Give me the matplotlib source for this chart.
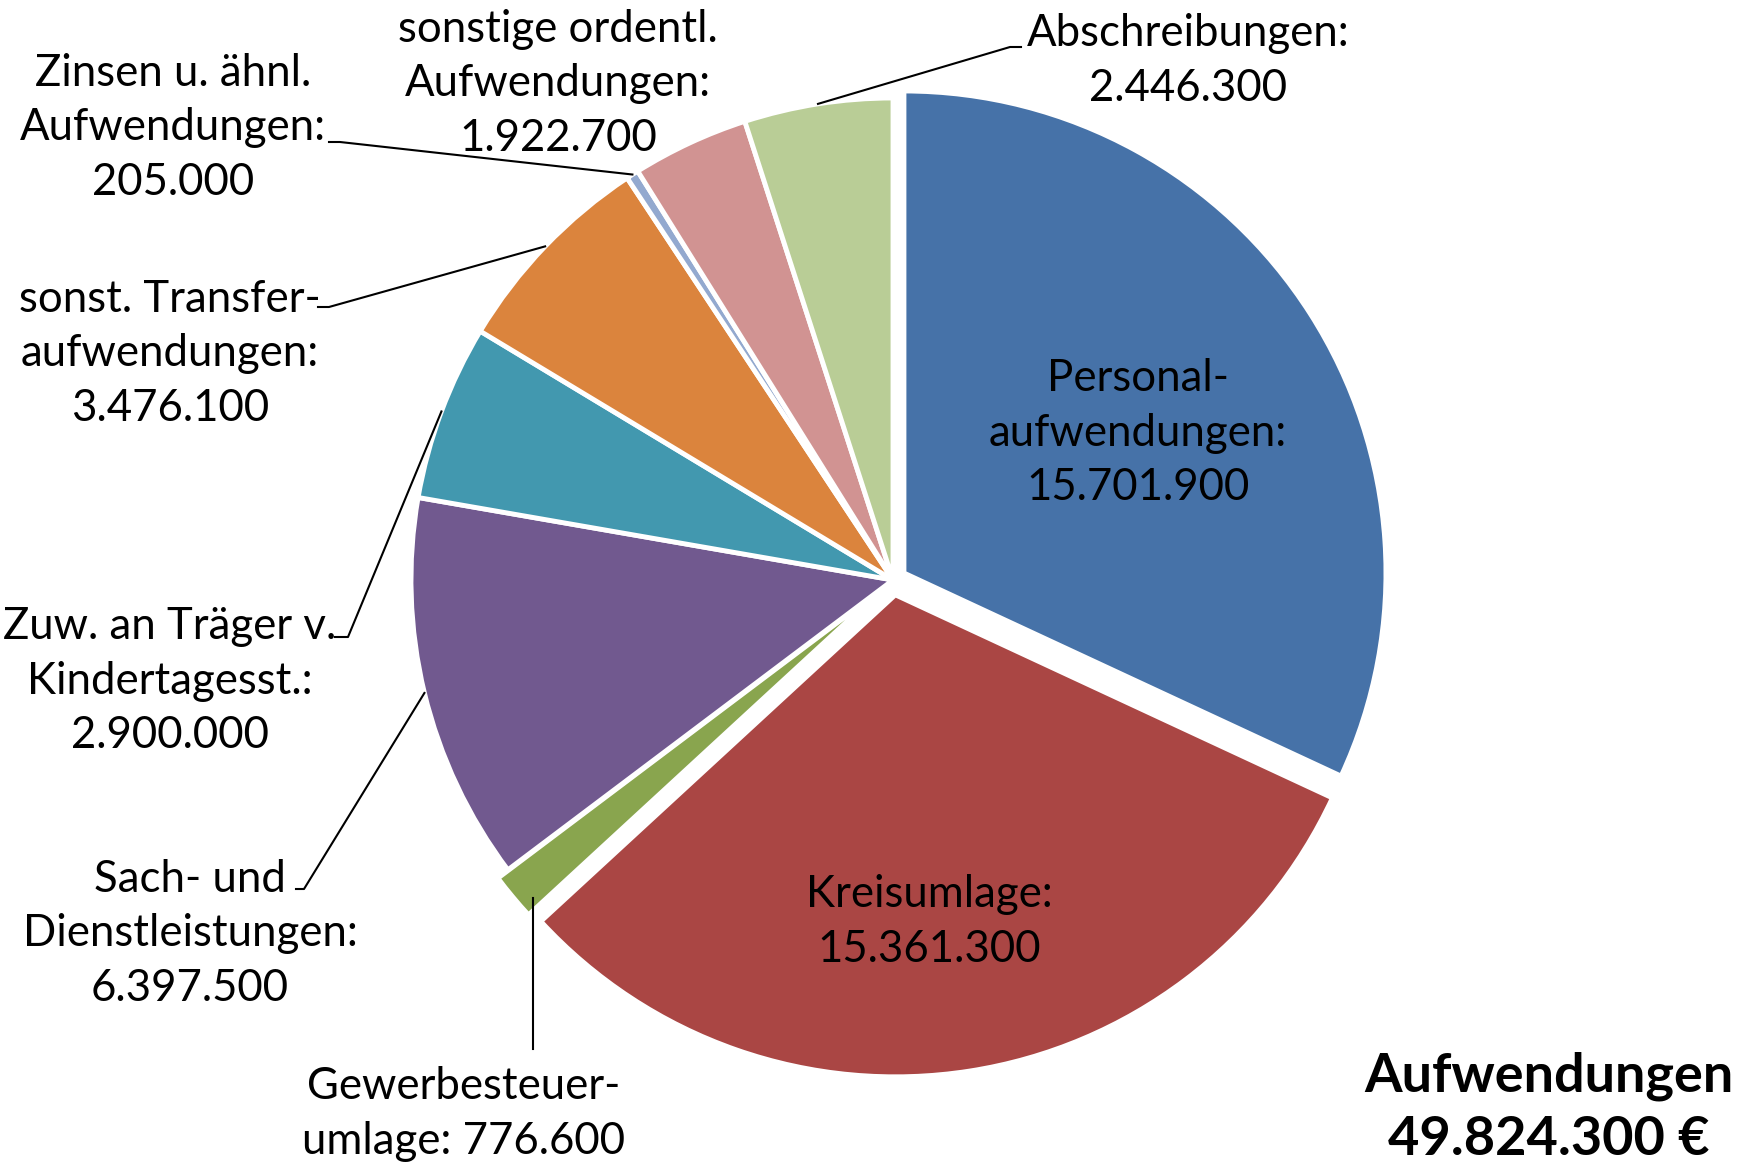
import numpy as np
import matplotlib.pyplot as plt

plt.rcParams['font.family'] = ['Lato', 'DejaVu Sans']

# data
labels = ['Personal-\naufwendungen:\n', 'Kreisumlage:\n', 'Gewerbesteuer-\numlage: ',
          'Sach- und\nDienstleistungen:\n', 'Zuw. an Träger v.\nKindertagesst.:\n',
          'sonst. Transfer-\naufwendungen:\n', 'Zinsen u. ähnl.\nAufwendungen:\n',
          'sonstige ordentl.\nAufwendungen:\n', 'Abschreibungen:\n']
values = [15701900, 15361300, 776600, 6397500, 2900000, 3476100, 205000, 1922700, 2446300]
colors = ['#4672A8', '#AA4644', '#89A54E', '#71598F', '#4298AF',
          '#DB843D', '#93A9CF', '#D19392', '#B9CD96']
total_label = 'Aufwendungen\n49.824.300 €'

W, H = 1750, 1165
def Y(y):
    return H - y

def fmt(v):
    return f'{v:,}'.replace(',', '.')

fig = plt.figure(figsize=(17.5, 11.65), dpi=100)
ax = fig.add_axes([0, 0, 1, 1])

cx, cy, R = 893, Y(580), 482
# pie explode is in data units here (pixels)
explode = [13, 15, 13, 0, 0, 0, 0, 0, 0]
wedges, _ = ax.pie(values, colors=colors, startangle=90, counterclock=False,
                   explode=explode, center=(cx, cy), radius=R,
                   wedgeprops=dict(edgecolor='white', linewidth=3.5))
ax.set_xlim(0, W)
ax.set_ylim(0, H)
ax.set_aspect('equal')
ax.axis('off')

fs = 31.5
# label text positions (image coords) and leader stubs
text_pos = [(1138, 433), (929, 922), (464, 1114), (190, 934), (170, 681),
            (170, 354), (173, 128), (558, 84), (1188, 61)]
stubs = {3: [(296, 889), (304, 889)], 4: [(335, 637), (348, 637)],
         5: [(318, 307), (329, 307)], 6: [(329, 142), (340, 142)],
         8: [(1021, 47), (1010, 47)]}

for i, w in enumerate(wedges):
    tx, ty = text_pos[i]
    ax.text(tx, Y(ty), labels[i] + fmt(values[i]), ha='center', va='center',
            fontsize=fs, linespacing=1.4, color='black')
    if i == 2:
        ang = np.deg2rad(0.2 * min(w.theta1, w.theta2) + 0.8 * max(w.theta1, w.theta2))
        wx = w.center[0] + 0.97 * w.r * np.cos(ang)
        wy = w.center[1] + 0.97 * w.r * np.sin(ang)
        ax.plot([wx, wx], [Y(1049), wy], color='black', lw=1.5)
        continue
    mid = np.deg2rad((w.theta1 + w.theta2) / 2)
    wx = w.center[0] + w.r * np.cos(mid)
    wy = w.center[1] + w.r * np.sin(mid)
    if i in stubs:
        pts = [(x, Y(y)) for x, y in stubs[i]] + [(wx, wy)]
        ax.plot([p[0] for p in pts], [p[1] for p in pts], color='black', lw=1.5)

ax.text(1549, Y(1108), total_label, ha='center', va='center', fontsize=39,
        fontweight='bold', linespacing=1.35)

fig.savefig('out.png', dpi=100)
